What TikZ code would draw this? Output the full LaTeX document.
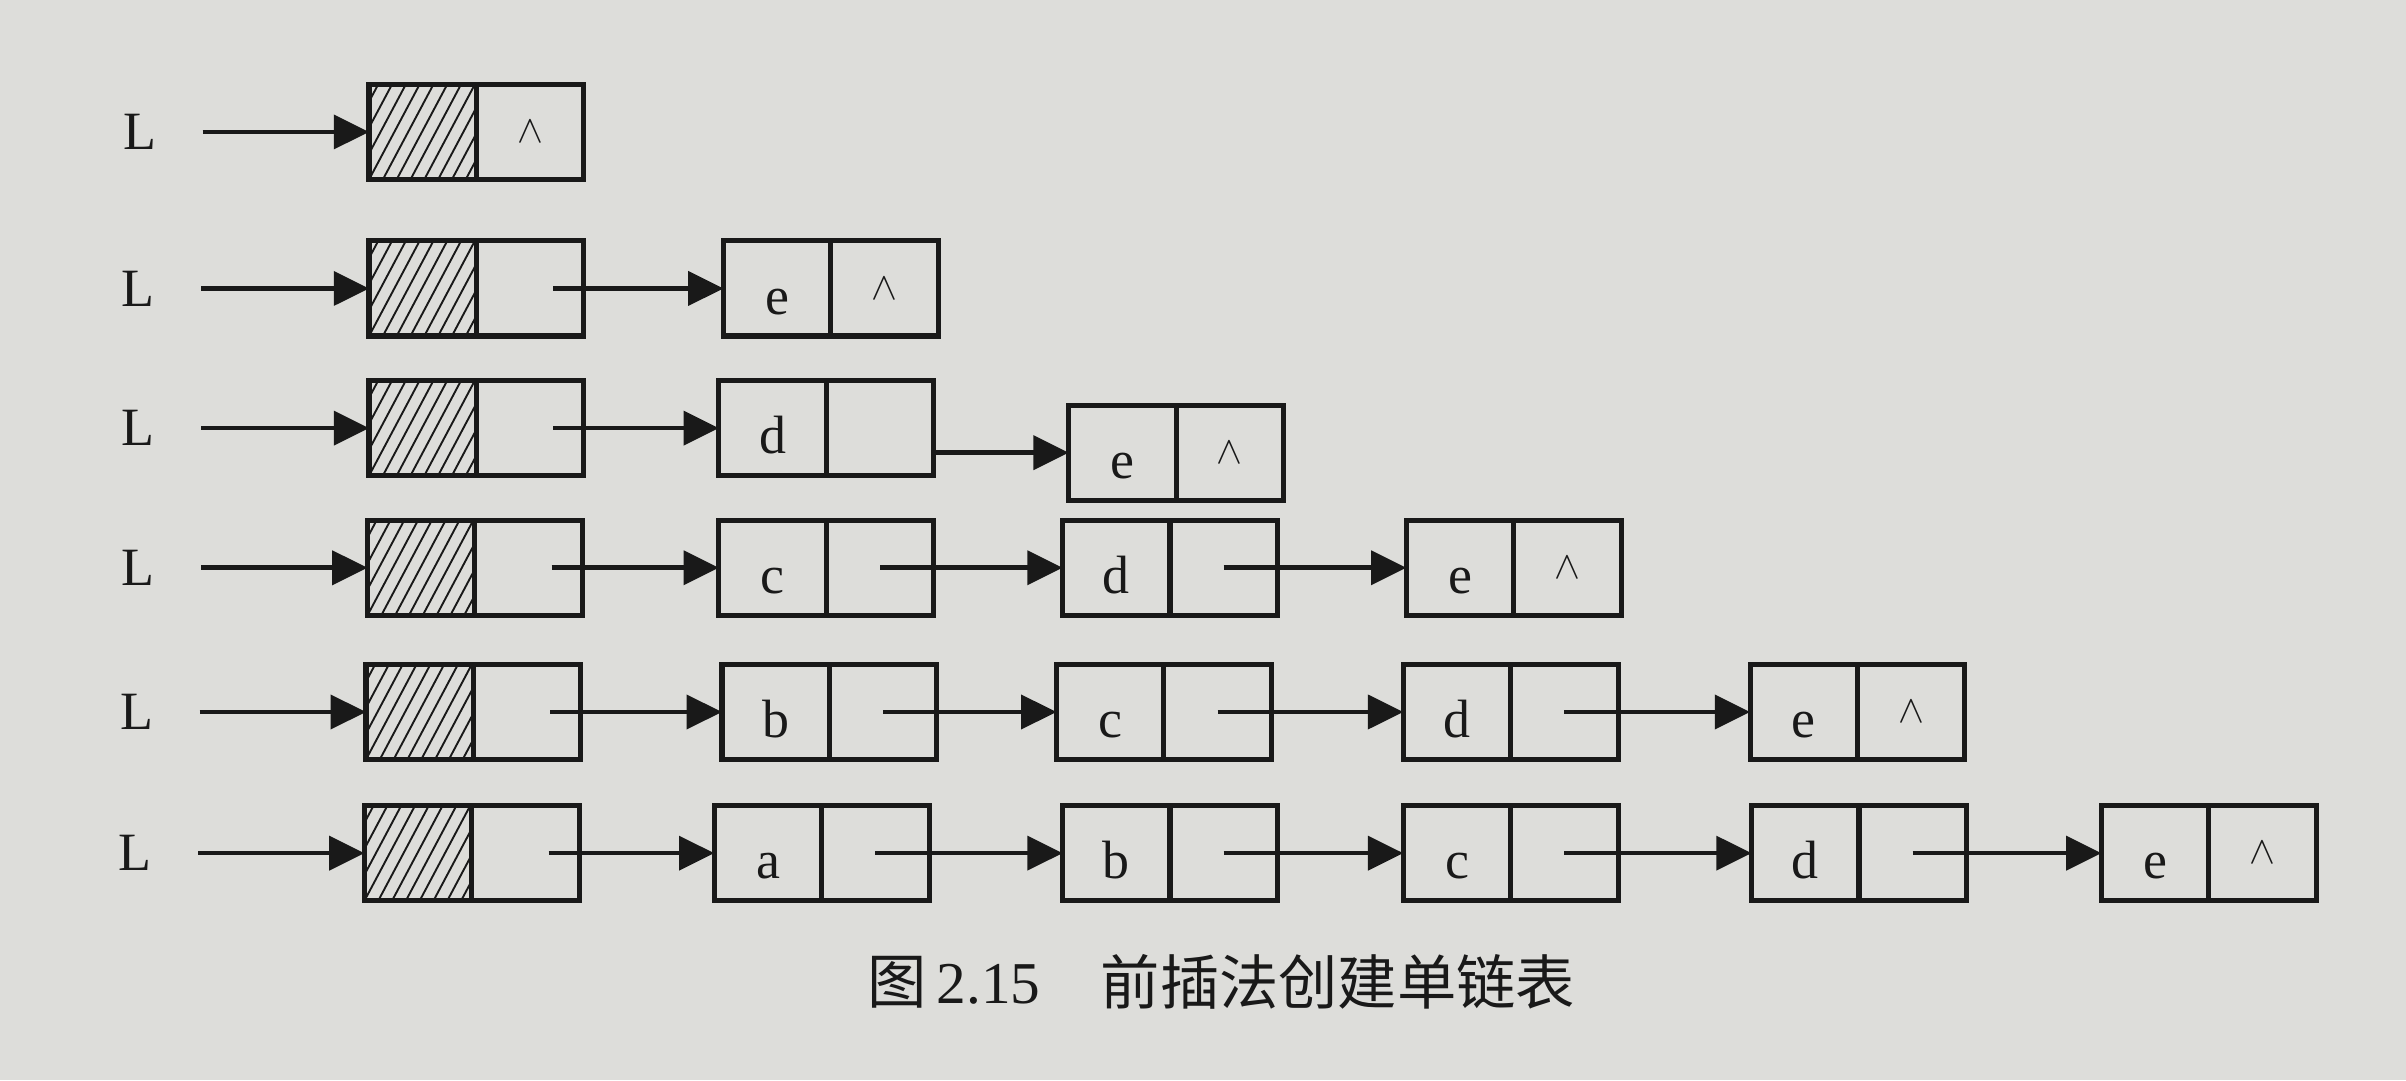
\documentclass[tikz,border=0pt]{standalone}
\usepackage{fontspec}
\setmainfont{Liberation Serif}
\newfontfamily\cjk{Noto Sans CJK SC}
\usetikzlibrary{arrows.meta}
\definecolor{paper}{RGB}{221,221,218}
\definecolor{ink}{RGB}{25,25,25}
\tikzset{
  fldbase/.style={draw=ink, line width=1.9pt, minimum width=1.4cm, minimum height=1.24cm,
    inner sep=0pt, outer sep=0pt, text=ink, font=\fontsize{20}{24}\selectfont},
  fld/.style={fldbase, text height=19pt, text depth=0pt},
  ptr/.style={fldbase},
  link/.style={draw=ink, line width=1.7pt, -{Triangle[length=0.46cm,width=0.44cm]}},
  lab/.style={text=ink, font=\fontsize{20}{24}\selectfont, inner sep=0pt},
  hatch/.style={draw=ink, line width=0.7pt},
  captext/.style={text=ink, inner sep=0pt, anchor=west, font=\fontsize{22}{26}\selectfont},
}
\newcommand\nilp{{\fontsize{14}{16}\selectfont$\wedge$}}
\newcommand\LLnode[5]{%
  \node[fld] (#1d) at (#2+35.5,#3) {#4};
  \node[ptr] (#1p) at (#2+105.5,#3) {#5};}
\newcommand\Hatch[1]{%
  \begin{scope}
    \clip (#1.south west) rectangle (#1.north east);
    \foreach \i in {-5,...,8}{\draw[hatch] ([xshift=\i*0.18cm]#1.south west) -- ++(62:2cm);}
  \end{scope}}
\begin{document}
\begin{tikzpicture}[x=0.02cm,y=-0.02cm]
\fill[paper] (0,0) rectangle (1568,704);
\useasboundingbox (0,0) rectangle (1568,704);

% row 1
\node[lab] (L1) at (91,86) {L};
\LLnode{h1}{240}{86}{}{\nilp}
\Hatch{h1d}
\draw[link] ([xshift=0.6cm]L1.east) -- (h1d.west);

% row 2
\node[lab] (L2) at (90,188) {L};
\LLnode{h2}{240}{188}{}{}
\Hatch{h2d}
\LLnode{r2e}{471}{188}{e}{\nilp}
\draw[link] ([xshift=0.6cm]L2.east) -- (h2d.west);
\draw[link] ([xshift=0.3cm]h2p.center) -- (r2ed.west);

% row 3
\node[lab] (L3) at (90,279) {L};
\LLnode{h3}{240}{279}{}{}
\Hatch{h3d}
\LLnode{r3d}{468}{279}{d}{}
\LLnode{r3e}{696}{295}{e}{\nilp}
\draw[link] ([xshift=0.6cm]L3.east) -- (h3d.west);
\draw[link] ([xshift=0.3cm]h3p.center) -- (r3dd.west);
\draw[link] (r3dp.east |- r3ed.west) -- (r3ed.west);

% row 4
\node[lab] (L4) at (90,370) {L};
\LLnode{h4}{239}{370}{}{}
\Hatch{h4d}
\LLnode{r4c}{468}{370}{c}{}
\LLnode{r4d}{692}{370}{d}{}
\LLnode{r4e}{916}{370}{e}{\nilp}
\draw[link] ([xshift=0.6cm]L4.east) -- (h4d.west);
\draw[link] ([xshift=0.3cm]h4p.center) -- (r4cd.west);
\draw[link] (r4cp.center) -- (r4dd.west);
\draw[link] (r4dp.center) -- (r4ed.west);

% row 5
\node[lab] (L5) at (89,464) {L};
\LLnode{h5}{238}{464}{}{}
\Hatch{h5d}
\LLnode{r5b}{470}{464}{b}{}
\LLnode{r5c}{688}{464}{c}{}
\LLnode{r5d}{914}{464}{d}{}
\LLnode{r5e}{1140}{464}{e}{\nilp}
\draw[link] ([xshift=0.6cm]L5.east) -- (h5d.west);
\draw[link] ([xshift=0.3cm]h5p.center) -- (r5bd.west);
\draw[link] (r5bp.center) -- (r5cd.west);
\draw[link] (r5cp.center) -- (r5dd.west);
\draw[link] (r5dp.center) -- (r5ed.west);

% row 6
\node[lab] (L6) at (88,556) {L};
\LLnode{h6}{237}{556}{}{}
\Hatch{h6d}
\LLnode{r6a}{465}{556}{a}{}
\LLnode{r6b}{692}{556}{b}{}
\LLnode{r6c}{914}{556}{c}{}
\LLnode{r6d}{1141}{556}{d}{}
\LLnode{r6e}{1369}{556}{e}{\nilp}
\draw[link] ([xshift=0.6cm]L6.east) -- (h6d.west);
\draw[link] ([xshift=0.3cm]h6p.center) -- (r6ad.west);
\draw[link] (r6ap.center) -- (r6bd.west);
\draw[link] (r6bp.center) -- (r6cd.west);
\draw[link] (r6cp.center) -- (r6dd.west);
\draw[link] (r6dp.center) -- (r6ed.west);

% caption
\node[captext] (cap1) at (565,640) {{\cjk 图}\,2.15};
\node[captext] (cap2) at (717,640) {\cjk 前插法创建单链表};
\end{tikzpicture}
\end{document}
